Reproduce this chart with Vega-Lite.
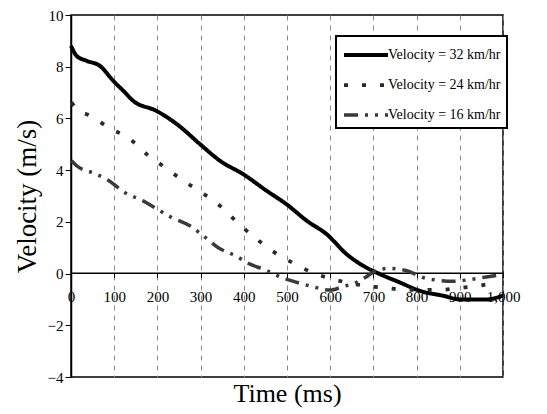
{
  "$schema": "https://vega.github.io/schema/vega-lite/v6.json",
  "width": 432,
  "height": 362,
  "autosize": {"type": "none"},
  "padding": {"left": 71, "top": 15, "right": 44, "bottom": 37},
  "background": "white",
  "config": {
    "view": {"stroke": "black", "strokeWidth": 1.5},
    "font": "Liberation Serif"
  },
  "data": {
    "values": [
      {"t": 0, "v": 8.81, "s": "Velocity = 32 km/hr"},
      {"t": 13, "v": 8.42, "s": "Velocity = 32 km/hr"},
      {"t": 36, "v": 8.23, "s": "Velocity = 32 km/hr"},
      {"t": 67, "v": 8.03, "s": "Velocity = 32 km/hr"},
      {"t": 98, "v": 7.45, "s": "Velocity = 32 km/hr"},
      {"t": 121, "v": 7.07, "s": "Velocity = 32 km/hr"},
      {"t": 144, "v": 6.68, "s": "Velocity = 32 km/hr"},
      {"t": 198, "v": 6.29, "s": "Velocity = 32 km/hr"},
      {"t": 245, "v": 5.78, "s": "Velocity = 32 km/hr"},
      {"t": 299, "v": 5.0, "s": "Velocity = 32 km/hr"},
      {"t": 345, "v": 4.36, "s": "Velocity = 32 km/hr"},
      {"t": 399, "v": 3.84, "s": "Velocity = 32 km/hr"},
      {"t": 453, "v": 3.2, "s": "Velocity = 32 km/hr"},
      {"t": 499, "v": 2.68, "s": "Velocity = 32 km/hr"},
      {"t": 546, "v": 2.04, "s": "Velocity = 32 km/hr"},
      {"t": 592, "v": 1.52, "s": "Velocity = 32 km/hr"},
      {"t": 638, "v": 0.75, "s": "Velocity = 32 km/hr"},
      {"t": 684, "v": 0.23, "s": "Velocity = 32 km/hr"},
      {"t": 715, "v": -0.02, "s": "Velocity = 32 km/hr"},
      {"t": 762, "v": -0.35, "s": "Velocity = 32 km/hr"},
      {"t": 808, "v": -0.67, "s": "Velocity = 32 km/hr"},
      {"t": 862, "v": -0.86, "s": "Velocity = 32 km/hr"},
      {"t": 900, "v": -1.0, "s": "Velocity = 32 km/hr"},
      {"t": 962, "v": -1.0, "s": "Velocity = 32 km/hr"},
      {"t": 1000, "v": -0.85, "s": "Velocity = 32 km/hr"},

      {"t": 1, "v": 6.62, "s": "Velocity = 24 km/hr"},
      {"t": 13, "v": 6.37, "s": "Velocity = 24 km/hr"},
      {"t": 45, "v": 6.1, "s": "Velocity = 24 km/hr"},
      {"t": 94, "v": 5.58, "s": "Velocity = 24 km/hr"},
      {"t": 132, "v": 5.26, "s": "Velocity = 24 km/hr"},
      {"t": 175, "v": 4.62, "s": "Velocity = 24 km/hr"},
      {"t": 218, "v": 4.1, "s": "Velocity = 24 km/hr"},
      {"t": 260, "v": 3.59, "s": "Velocity = 24 km/hr"},
      {"t": 303, "v": 3.13, "s": "Velocity = 24 km/hr"},
      {"t": 345, "v": 2.62, "s": "Velocity = 24 km/hr"},
      {"t": 388, "v": 1.93, "s": "Velocity = 24 km/hr"},
      {"t": 430, "v": 1.33, "s": "Velocity = 24 km/hr"},
      {"t": 472, "v": 0.81, "s": "Velocity = 24 km/hr"},
      {"t": 515, "v": 0.4, "s": "Velocity = 24 km/hr"},
      {"t": 559, "v": 0.04, "s": "Velocity = 24 km/hr"},
      {"t": 600, "v": -0.19, "s": "Velocity = 24 km/hr"},
      {"t": 640, "v": -0.35, "s": "Velocity = 24 km/hr"},
      {"t": 684, "v": -0.48, "s": "Velocity = 24 km/hr"},
      {"t": 729, "v": -0.55, "s": "Velocity = 24 km/hr"},
      {"t": 771, "v": -0.63, "s": "Velocity = 24 km/hr"},
      {"t": 852, "v": -0.63, "s": "Velocity = 24 km/hr"},
      {"t": 900, "v": -0.55, "s": "Velocity = 24 km/hr"},
      {"t": 940, "v": -0.48, "s": "Velocity = 24 km/hr"},
      {"t": 985, "v": -0.35, "s": "Velocity = 24 km/hr"},

      {"t": 1, "v": 4.36, "s": "Velocity = 16 km/hr"},
      {"t": 13, "v": 4.17, "s": "Velocity = 16 km/hr"},
      {"t": 55, "v": 3.87, "s": "Velocity = 16 km/hr"},
      {"t": 86, "v": 3.61, "s": "Velocity = 16 km/hr"},
      {"t": 125, "v": 3.13, "s": "Velocity = 16 km/hr"},
      {"t": 167, "v": 2.81, "s": "Velocity = 16 km/hr"},
      {"t": 194, "v": 2.55, "s": "Velocity = 16 km/hr"},
      {"t": 233, "v": 2.17, "s": "Velocity = 16 km/hr"},
      {"t": 275, "v": 1.85, "s": "Velocity = 16 km/hr"},
      {"t": 302, "v": 1.52, "s": "Velocity = 16 km/hr"},
      {"t": 341, "v": 1.0, "s": "Velocity = 16 km/hr"},
      {"t": 384, "v": 0.66, "s": "Velocity = 16 km/hr"},
      {"t": 410, "v": 0.4, "s": "Velocity = 16 km/hr"},
      {"t": 445, "v": 0.17, "s": "Velocity = 16 km/hr"},
      {"t": 492, "v": -0.18, "s": "Velocity = 16 km/hr"},
      {"t": 519, "v": -0.32, "s": "Velocity = 16 km/hr"},
      {"t": 558, "v": -0.5, "s": "Velocity = 16 km/hr"},
      {"t": 600, "v": -0.64, "s": "Velocity = 16 km/hr"},
      {"t": 630, "v": -0.5, "s": "Velocity = 16 km/hr"},
      {"t": 657, "v": -0.37, "s": "Velocity = 16 km/hr"},
      {"t": 684, "v": -0.12, "s": "Velocity = 16 km/hr"},
      {"t": 705, "v": 0.1, "s": "Velocity = 16 km/hr"},
      {"t": 737, "v": 0.2, "s": "Velocity = 16 km/hr"},
      {"t": 775, "v": 0.12, "s": "Velocity = 16 km/hr"},
      {"t": 798, "v": -0.03, "s": "Velocity = 16 km/hr"},
      {"t": 814, "v": -0.15, "s": "Velocity = 16 km/hr"},
      {"t": 845, "v": -0.25, "s": "Velocity = 16 km/hr"},
      {"t": 883, "v": -0.3, "s": "Velocity = 16 km/hr"},
      {"t": 915, "v": -0.25, "s": "Velocity = 16 km/hr"},
      {"t": 954, "v": -0.15, "s": "Velocity = 16 km/hr"},
      {"t": 992, "v": -0.05, "s": "Velocity = 16 km/hr"}
    ]
  },
  "mark": {"type": "line", "interpolate": "monotone", "strokeCap": "butt"},
  "encoding": {
    "x": {
      "field": "t",
      "type": "quantitative",
      "scale": {"domain": [0, 1000], "nice": false},
      "axis": {
        "title": "Time (ms)",
        "values": [0, 100, 200, 300, 400, 500, 600, 700, 800, 900, 1000],
        "offset": -104.3,
        "domainColor": "black",
        "domainWidth": 1.5,
        "tickColor": "black",
        "tickSize": 5,
        "labelPadding": 12,
        "labelFont": "Liberation Serif",
        "labelFontSize": 15,
        "labelColor": "black",
        "labelFlush": false,
        "labelOverlap": false,
        "grid": true,
        "gridColor": "#8a8a8a",
        "gridDash": [5, 5],
        "gridWidth": 1,
        "titleFont": "Liberation Serif",
        "titleFontSize": 26,
        "titleFontWeight": "normal",
        "titleColor": "black",
        "titleBaseline": "alphabetic",
        "titleY": 129
      }
    },
    "y": {
      "field": "v",
      "type": "quantitative",
      "scale": {"domain": [-4, 10], "nice": false},
      "axis": {
        "title": "Velocity (m/s)",
        "values": [-4, -2, 0, 2, 4, 6, 8, 10],
        "grid": false,
        "domainColor": "black",
        "domainWidth": 1.5,
        "tickColor": "black",
        "tickSize": 6,
        "labelPadding": 2,
        "labelFont": "Liberation Serif",
        "labelFontSize": 15,
        "labelColor": "black",
        "labelFlush": false,
        "titleFont": "Liberation Serif",
        "titleFontSize": 27,
        "titleFontWeight": "normal",
        "titleColor": "black",
        "titleAngle": -90,
        "titleAlign": "center",
        "titleBaseline": "middle",
        "titleX": -44,
        "titleY": 181
      }
    },
    "color": {
      "field": "s",
      "type": "nominal",
      "scale": {
        "domain": ["Velocity = 32 km/hr", "Velocity = 24 km/hr", "Velocity = 16 km/hr"],
        "range": ["#000000", "#2a2a2a", "#3a3a3a"]
      },
      "legend": {
        "title": null,
        "orient": "none",
        "legendX": 265,
        "legendY": 21,
        "strokeColor": "black",
        "fillColor": "white",
        "padding": 6,
        "symbolType": "M-1,0H3",
        "symbolSize": 484,
        "labelFont": "Liberation Serif",
        "labelFontSize": 14,
        "labelColor": "black",
        "labelOffset": 20,
        "rowPadding": 9,
        "encode": {"legend": {"update": {"strokeWidth": {"value": 2}}}}
      }
    },
    "strokeDash": {
      "field": "s",
      "type": "nominal",
      "scale": {
        "domain": ["Velocity = 32 km/hr", "Velocity = 24 km/hr", "Velocity = 16 km/hr"],
        "range": [[1, 0], [4, 14], [14, 7, 3, 7, 3, 7]]
      },
      "legend": null
    },
    "strokeWidth": {
      "field": "s",
      "type": "nominal",
      "scale": {
        "domain": ["Velocity = 32 km/hr", "Velocity = 24 km/hr", "Velocity = 16 km/hr"],
        "range": [4, 3.5, 2]
      },
      "legend": null
    }
  }
}
